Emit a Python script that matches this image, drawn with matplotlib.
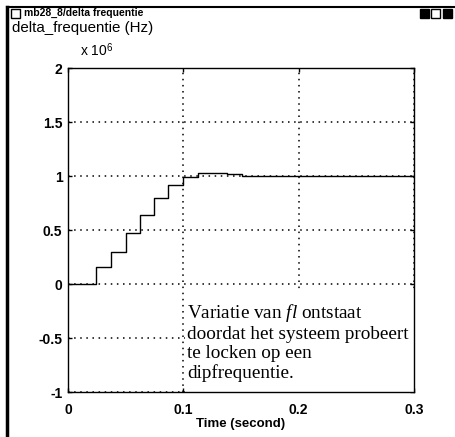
import matplotlib
matplotlib.use("Agg")
import matplotlib.pyplot as plt
from matplotlib.patches import Rectangle

plt.rcParams["mathtext.fontset"] = "custom"
plt.rcParams["mathtext.it"] = "Liberation Serif:italic"
plt.rcParams["mathtext.rm"] = "Liberation Sans"

# Data (step signal, Hz)
step_times = [0.0, 0.0243, 0.0374, 0.0504, 0.0626, 0.0748, 0.087, 0.1, 0.113, 0.138, 0.151, 0.167, 0.3]
step_values = [0.0, 0.157e6, 0.296e6, 0.47e6, 0.64e6, 0.80e6, 0.92e6, 0.994e6, 1.03e6, 1.018e6, 1.003e6, 0.996e6, 0.996e6]
x_ticks = [0, 0.1, 0.2, 0.3]
x_tick_labels = ["0", "0.1", "0.2", "0.3"]
y_ticks = [-1e6, -0.5e6, 0, 0.5e6, 1e6, 1.5e6, 2e6]
y_tick_labels = ["-1", "-0.5", "0", "0.5", "1", "1.5", "2"]

W, H = 455, 437
fig = plt.figure(figsize=(W / 100, H / 100), dpi=100)
fig.patch.set_facecolor("white")

ax = fig.add_axes([68 / W, 1 - 392 / H, (414 - 68) / W, (392 - 68) / H])
ax.step(step_times, step_values, where="post", color="black", lw=1.0, zorder=3)
ax.set_xlim(0, 0.3)
ax.set_ylim(-1e6, 2e6)
ax.set_xticks(x_ticks)
ax.set_xticklabels(x_tick_labels)
ax.set_yticks(y_ticks)
ax.set_yticklabels(y_tick_labels)
ax.set_axisbelow(True)
ax.grid(True, color="black", linestyle=(0, (1, 3)), linewidth=1.1)
ax.tick_params(direction="in", length=3, width=1, top=True, right=True,
               labelsize=10, pad=4)
ax.tick_params(axis="x", pad=8)
for lab in ax.get_xticklabels() + ax.get_yticklabels():
    lab.set_fontweight("bold")
    lab.set_family("Liberation Sans")
for s in ax.spines.values():
    s.set_linewidth(1.0)

# white box behind annotation hiding grid
ax.add_patch(Rectangle((0.1015, -1e6), 0.2, 0.94e6, facecolor="white",
                       edgecolor="none", zorder=1))
ax.text(0.1035, -0.165e6,
        "Variatie van $\\mathit{fl}$ ontstaat\ndoordat het systeem probeert\nte locken op een\ndipfrequentie.",
        family="Liberation Serif", fontsize=13.8, va="top", ha="left",
        linespacing=1.15, zorder=4)

ax.set_xlabel("Time (second)", fontsize=9.5, fontweight="bold",
              family="Liberation Sans", labelpad=1)

# multiplier
fig.text(80 / W, 1 - 56 / H, "x 10$^6$", fontsize=10, family="Liberation Sans",
         va="baseline", ha="left")
# title
fig.text(12 / W, 1 - 32 / H, "delta_frequentie (Hz)", fontsize=10.9,
         family="Liberation Sans", va="baseline", ha="left")
# window title
fig.text(24 / W, 1 - 16 / H, "mb28_8/delta frequentie", fontsize=7.5,
         fontweight="bold", family="Liberation Sans", va="baseline", ha="left")
# window icon
fig.patches.append(Rectangle((11 / W, 1 - 18 / H), 9 / W, 9 / H, transform=fig.transFigure,
                             facecolor="white", edgecolor="black", lw=1))
# top-right buttons
for i, xx in enumerate([420, 431, 443]):
    fig.patches.append(Rectangle((xx / W, 1 - 18 / H), 9 / W, 9 / H, transform=fig.transFigure,
                                 facecolor="black" if i != 1 else "white",
                                 edgecolor="black", lw=1))
# window frame
fig.lines.append(plt.Line2D([7 / W, 1], [1 - 7 / H, 1 - 7 / H], transform=fig.transFigure,
                            color="black", lw=1.5))
fig.lines.append(plt.Line2D([7 / W, 7 / W], [0, 1 - 7 / H], transform=fig.transFigure,
                            color="black", lw=2.5))

fig.savefig("out.png", dpi=100)
